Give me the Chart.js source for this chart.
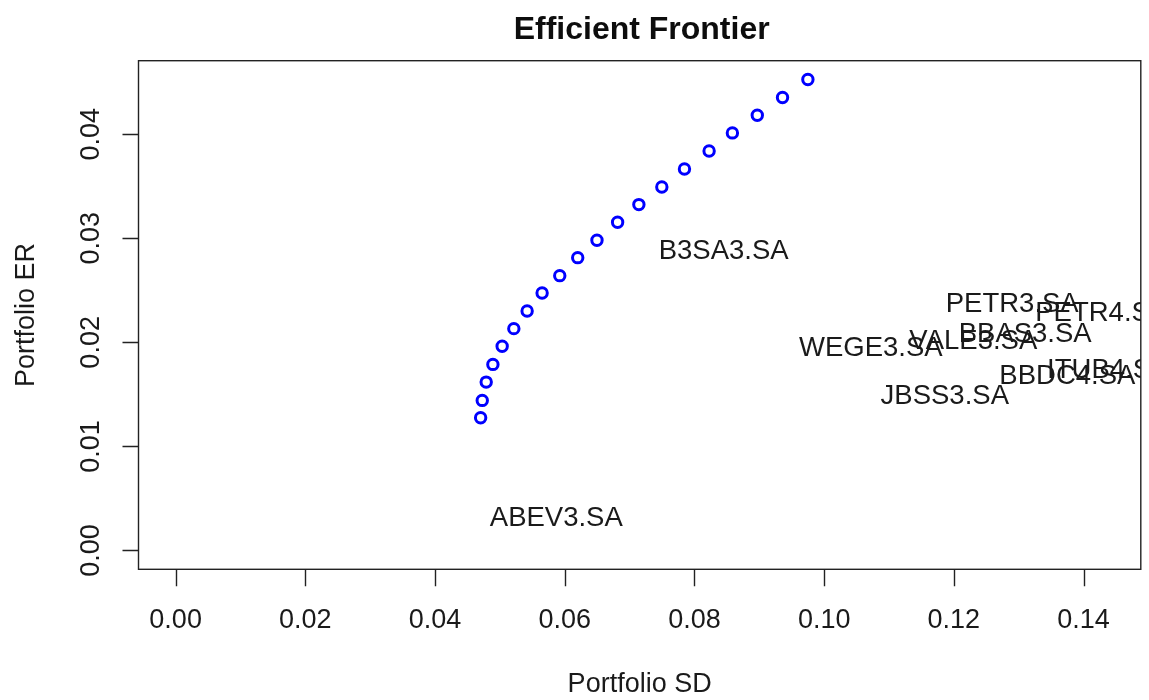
<!DOCTYPE html>
<html>
<head>
<meta charset="utf-8">
<script src="https://cdn.jsdelivr.net/npm/chart.js@4.4.1/dist/chart.umd.min.js"></script>
<style>
  html, body { margin: 0; padding: 0; background: #ffffff; }
  #wrap { width: 1149px; height: 700px; position: relative; }
</style>
</head>
<body>
<div id="wrap"><canvas id="c" width="1149" height="700"></canvas></div>
<script>
// ---- Data ----
const chartTitle = "Efficient Frontier";
const xTitle = "Portfolio SD";
const yTitle = "Portfolio ER";

const frontierSD = [0.04703, 0.04728, 0.04789, 0.04892, 0.05035, 0.05215, 0.05420, 0.05651, 0.05923, 0.06200,
                    0.06497, 0.06815, 0.07143, 0.07497, 0.07846, 0.08226, 0.08585, 0.08969, 0.09358, 0.09749];
const frontierER = [0.01276, 0.01442, 0.01618, 0.01788, 0.01962, 0.02132, 0.02301, 0.02474, 0.02641, 0.02814,
                    0.02981, 0.03154, 0.03324, 0.03493, 0.03666, 0.03839, 0.04013, 0.04183, 0.04353, 0.04526];

const assetNames = ["B3SA3.SA", "ABEV3.SA", "WEGE3.SA", "VALE3.SA", "BBAS3.SA", "PETR3.SA", "PETR4.SA", "BBDC4.SA", "ITUB4.SA", "JBSS3.SA"];
const assetSD    = [0.0845, 0.0587, 0.1072, 0.1230, 0.1310, 0.1290, 0.1428, 0.1375, 0.1438, 0.1186];
const assetER    = [0.02885, 0.00318, 0.01952, 0.02020, 0.02087, 0.02375, 0.02292, 0.01683, 0.01740, 0.01490];

const xTicks = [0.00, 0.02, 0.04, 0.06, 0.08, 0.10, 0.12, 0.14];
const yTicks = [0.00, 0.01, 0.02, 0.03, 0.04];

// R-style axis limits: data range extended by 4% on each side
const xLim = [0, 0.1431];
const yLim = [0, Math.max(...frontierER)];
const ext = (lim) => { const d = (lim[1] - lim[0]) * 0.04; return [lim[0] - d, lim[1] + d]; };
const xRange = ext(xLim);
const yRange = ext(yLim);

const FONT = '"Liberation Sans", Arial, Helvetica, sans-serif';

const rPlot = {
  id: 'rPlot',
  afterDatasetsDraw(chart) {
    const ctx = chart.ctx;
    const a = chart.chartArea;
    const xs = chart.scales.x, ys = chart.scales.y;
    ctx.save();
    // asset labels (clipped to plot region)
    ctx.save();
    ctx.beginPath();
    ctx.rect(a.left, a.top, a.right - a.left, a.bottom - a.top);
    ctx.clip();
    ctx.fillStyle = '#1a1a1a';
    ctx.font = '27.5px ' + FONT;
    ctx.textAlign = 'center';
    ctx.textBaseline = 'middle';
    for (let i = 0; i < assetNames.length; i++) {
      ctx.fillText(assetNames[i], xs.getPixelForValue(assetSD[i]), ys.getPixelForValue(assetER[i]) + 1);
    }
    ctx.restore();

    // frame
    ctx.strokeStyle = '#222';
    ctx.lineWidth = 1.4;
    ctx.strokeRect(a.left, a.top, a.right - a.left, a.bottom - a.top);

    // x axis ticks
    ctx.fillStyle = '#1a1a1a';
    ctx.font = '27px ' + FONT;
    ctx.textAlign = 'center';
    ctx.textBaseline = 'middle';
    ctx.beginPath();
    for (const t of xTicks) {
      const px = Math.round(xs.getPixelForValue(t)) + 0.5;
      ctx.moveTo(px, a.bottom);
      ctx.lineTo(px, a.bottom + 17);
    }
    ctx.stroke();
    for (const t of xTicks) {
      ctx.fillText(t.toFixed(2), xs.getPixelForValue(t), 621);
    }
    // y axis ticks
    ctx.beginPath();
    for (const t of yTicks) {
      const py = Math.round(ys.getPixelForValue(t)) + 0.5;
      ctx.moveTo(a.left, py);
      ctx.lineTo(a.left - 16, py);
    }
    ctx.stroke();
    for (const t of yTicks) {
      ctx.save();
      ctx.translate(92, ys.getPixelForValue(t));
      ctx.rotate(-Math.PI / 2);
      ctx.fillText(t.toFixed(2), 0, 0);
      ctx.restore();
    }
    // axis titles
    ctx.fillText(xTitle, (a.left + a.right) / 2, 685);
    ctx.save();
    ctx.translate(27, (a.top + a.bottom) / 2);
    ctx.rotate(-Math.PI / 2);
    ctx.fillText(yTitle, 0, 0);
    ctx.restore();
    // main title
    ctx.fillStyle = '#0d0d0d';
    ctx.font = 'bold 32px ' + FONT;
    ctx.fillText(chartTitle, (a.left + a.right) / 2 + 2, 30);
    ctx.restore();
  }
};

new Chart(document.getElementById('c'), {
  type: 'scatter',
  data: {
    datasets: [{
      label: 'Frontier',
      data: frontierSD.map((x, i) => ({ x: x, y: frontierER[i] })),
      pointStyle: 'circle',
      pointRadius: 5.2,
      pointBorderWidth: 3,
      pointBorderColor: '#0000ff',
      pointBackgroundColor: 'rgba(0,0,0,0)',
      showLine: false
    }]
  },
  options: {
    responsive: false,
    animation: false,
    devicePixelRatio: 1,
    layout: { padding: { left: 138.5, right: 5.7, top: 60.7, bottom: 130.7 } },
    plugins: { legend: { display: false }, title: { display: false }, tooltip: { enabled: false } },
    scales: {
      x: { type: 'linear', display: false, min: xRange[0], max: xRange[1] },
      y: { type: 'linear', display: false, min: yRange[0], max: yRange[1] }
    }
  },
  plugins: [rPlot]
});
</script>
</body>
</html>
